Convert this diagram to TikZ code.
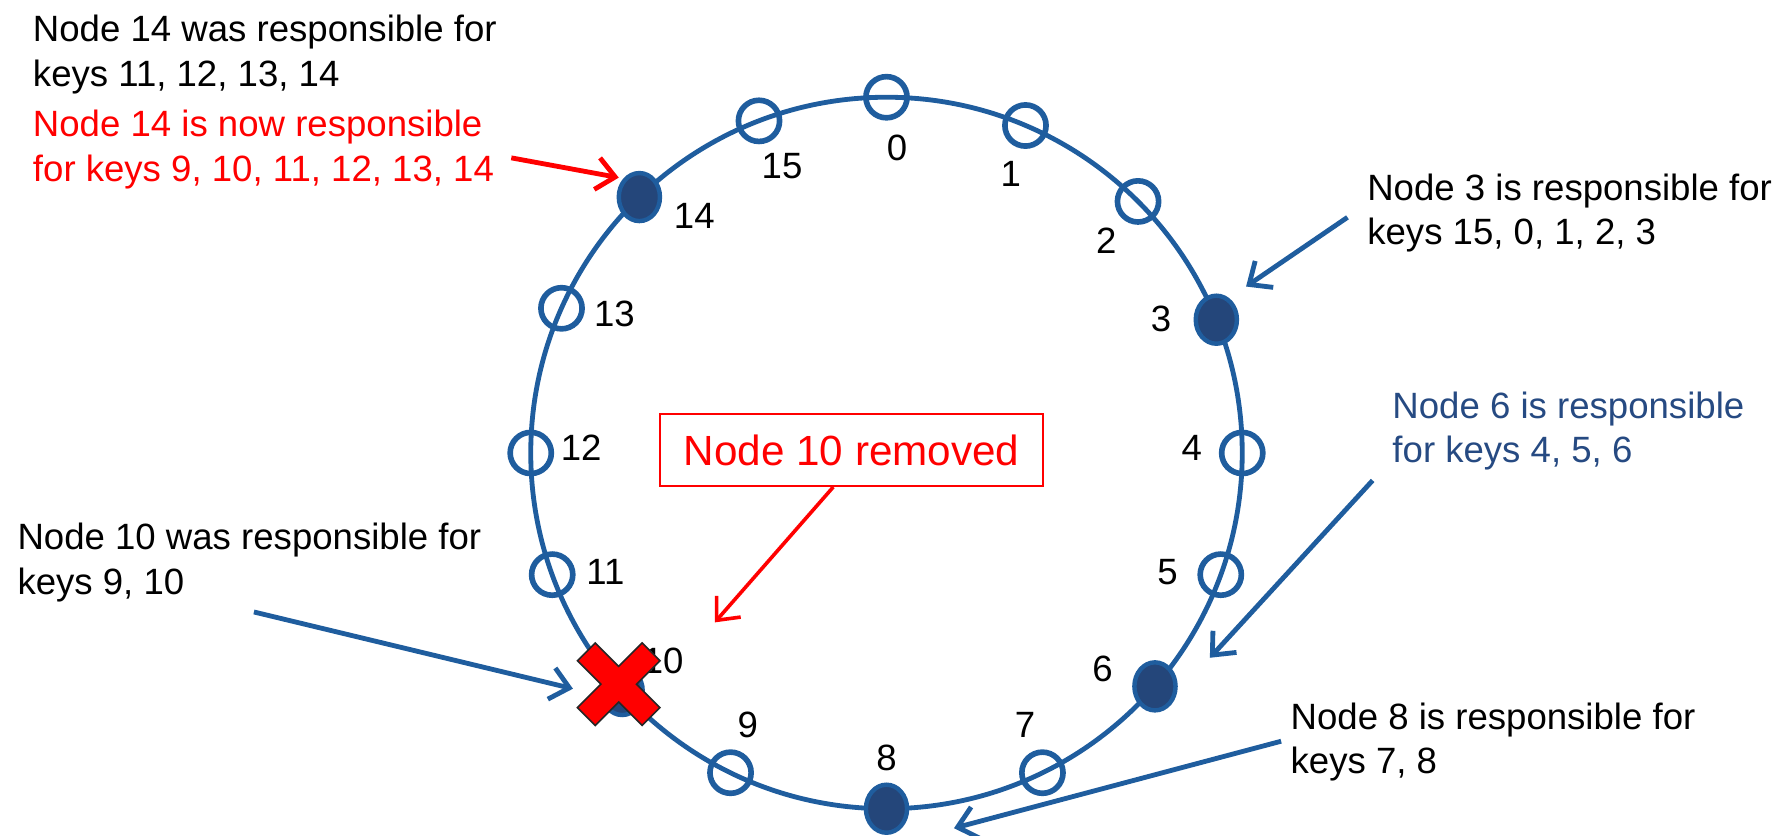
\documentclass[tikz,border=0pt]{standalone}
\usepackage{fontspec}
\setmainfont{Liberation Sans}
\usetikzlibrary{arrows.meta,positioning,calc,shapes.geometric}
\definecolor{ringblue}{RGB}{31,93,158}
\definecolor{ownerfill}{RGB}{36,70,122}
\definecolor{notegray}{RGB}{38,74,130}
\tikzset{
    every node/.style={font=\fontsize{18.2}{22.2}\selectfont},
    ring/.style={draw=ringblue, line width=2.4pt},
    key/.style={circle, draw=ringblue, line width=2.8pt, minimum size=0.72cm, inner sep=0},
    owner/.style={ellipse, draw=ringblue, fill=ownerfill, line width=2.2pt, minimum width=0.72cm, minimum height=0.84cm, inner sep=0},
    note/.style={align=left, inner sep=0, anchor=north west},
    pointer/.style={-{Straight Barb[length=0.32cm,width=0.56cm]}, draw=ringblue, line width=2.4pt},
    redpointer/.style={pointer, draw=red},
    gone/.style={draw=red, line width=0.8pt, text=red, fill=white, minimum width=6.7cm, minimum height=1.26cm,
        font=\fontsize{21}{25}\selectfont},
    xmark/.style={fill=red, draw=black!85, line width=0.8pt, line join=miter}
}

\begin{document}
\begin{tikzpicture}
    \useasboundingbox (-15.5,-6.68) rectangle (15.71,7.92);
    \draw[ring] (0,0) circle (6.22);

    % ring positions: key/angle/label angle/style
    \foreach \k/\a/\b/\s in {0/90/88/key, 1/67/66/key, 2/45/44/key, 3/22/26/owner,
        4/0/1/key, 5/-20/-23/key, 6/-41/-45/owner, 7/-64/-63/key, 8/-90/-90/owner,
        9/-116/-117/key, 10/-138/-137/owner, 11/-160/-157/key, 12/180/179/key,
        13/156/153/key, 14/134/129/owner, 15/111/110/key}
    {
        \node[\s] (n\k) at (\a:6.22) {};
        \node (l\k) at (\b:5.34) {\k};
    }

    % notes
    \node[note] (was14) at (-14.93,7.66) {Node 14 was responsible for\\keys 11, 12, 13, 14};
    \node[note, text=red, below=0.27cm of was14.south west, anchor=north west] (now14) {Node 14 is now responsible\\for keys 9, 10, 11, 12, 13, 14};
    \node[note] (own3) at (8.4,4.89) {Node 3 is responsible for\\keys 15, 0, 1, 2, 3};
    \node[note, text=notegray] (own6) at (8.84,1.08) {Node 6 is responsible\\for keys 4, 5, 6};
    \node[note] (was10) at (-15.2,-1.22) {Node 10 was responsible for\\keys 9, 10};
    \node[note] (own8) at (7.06,-4.36) {Node 8 is responsible for\\keys 7, 8};
    \node[gone] (gone10) at (-0.61,0.05) {Node 10 removed};

    \coordinate (t14) at (-6.56,5.16);
    \coordinate (t3) at (8.06,4.12);
    \coordinate (t6) at (8.5,-0.48);
    \coordinate (t8) at (6.9,-5.04);
    \coordinate (t10) at (-11.06,-2.78);

    \draw[redpointer] (t14) -- ($(n14)+(-0.36,0.34)$);
    \draw[pointer] (t3) -- ($(n3)+(0.52,0.58)$);
    \draw[pointer] (t6) -- ($(n6)+(0.96,0.5)$);
    \draw[pointer] (t8) -- ($(n8)+(1.18,-0.34)$);
    \draw[pointer] (t10) -- ($(n10)+(-0.86,0.04)$);
    \draw[redpointer, line width=1.8pt] ([xshift=-0.32cm]gone10.south) -- ($(n10)+(1.62,1.2)$);

    % node 10 is gone
    \draw[xmark, shift={($(n10)+(-0.06,0.12)$)}, rotate=45]
        (0.22,0.22) -- (0.8,0.22) -- (0.8,-0.22) -- (0.22,-0.22) -- (0.22,-0.8) -- (-0.22,-0.8)
        -- (-0.22,-0.22) -- (-0.8,-0.22) -- (-0.8,0.22) -- (-0.22,0.22) -- (-0.22,0.8) -- (0.22,0.8) -- cycle;
\end{tikzpicture}
\end{document}
